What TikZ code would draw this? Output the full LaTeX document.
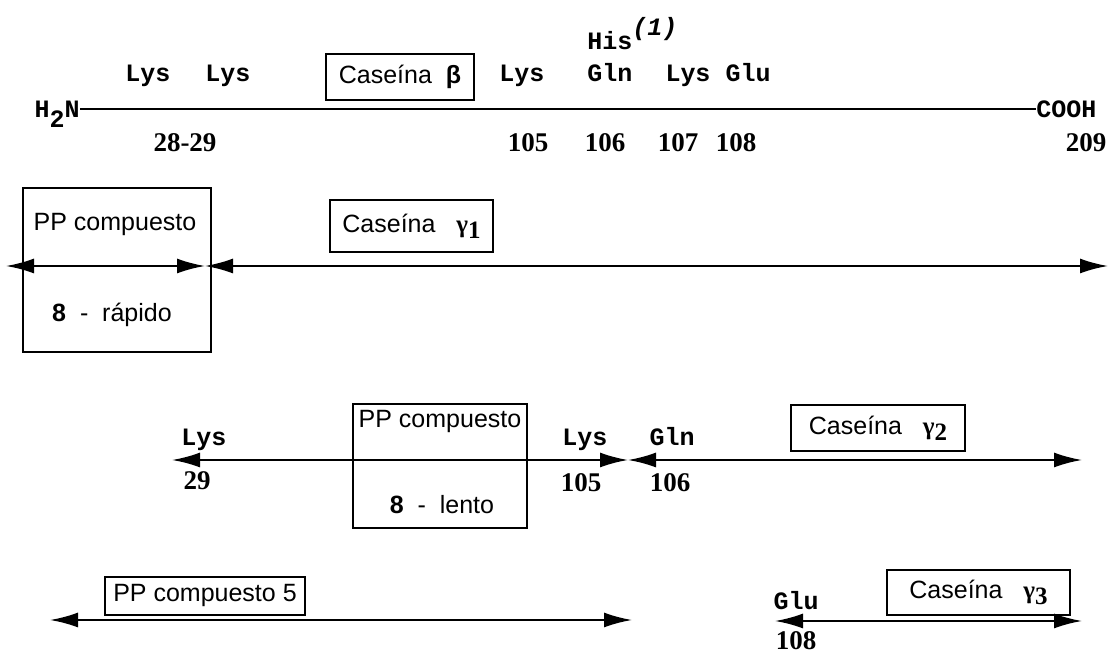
\documentclass[tikz,border=0pt]{standalone}
\usepackage{fontspec}
\setmainfont{Liberation Sans}
\newfontfamily\resfont{Liberation Mono}
\newfontfamily\numfont{Liberation Serif}
\usetikzlibrary{arrows.meta,positioning}

\newcommand{\gam}[1]{{\numfont\bfseries γ}\raisebox{-0.45ex}{\numfont\bfseries #1}}

\begin{document}
\begin{tikzpicture}[
    x=0.5pt, y=-0.5pt,
    res/.style={font=\resfont\bfseries\fontsize{12.5}{14}\selectfont, inner sep=0pt, anchor=base},
    num/.style={font=\numfont\bfseries\fontsize{13.5}{15}\selectfont, inner sep=0pt, anchor=base},
    lbl/.style={font=\fontsize{12.5}{14}\selectfont, inner sep=0pt},
    cbox/.style={rectangle, draw, line width=0.9pt, font=\fontsize{12.5}{14}\selectfont, inner sep=0pt},
    tallbox/.style={rectangle, draw, line width=0.9pt, inner sep=0pt},
    arr/.style={{Latex[length=14pt,width=7.5pt]}-{Latex[length=14pt,width=7.5pt]}, line width=1.1pt},
]
    \useasboundingbox (0,0) rectangle (1110,656);

    % main chain
    \node [res, anchor=east] (nterm) at (80,109) {H\smash{\raisebox{-0.75ex}{2}}N};
    \node [res, anchor=west] (cterm) at (1036,109) {COOH};
    \draw [line width=1.1pt] (nterm) -- (cterm);

    \foreach \x/\name in {148/Lys, 228/Lys, 522/Lys, 610/Gln, 688/Lys, 748/Glu}
        \node [res] (r\x) at (\x,82) {\name};
    \node [res, anchor=base west] (his) at (587,50) {His\raisebox{1.1ex}{\itshape (1)}};

    \foreach \x/\pos in {185/28-29, 528/105, 605/106, 678/107, 736/108, 1086/209}
        \node [num] (n\x) at (\x,152) {\pos};

    \node [cbox, minimum width=74pt, minimum height=23pt] (beta) at (400,77) {Caseína\ \ {\bfseries β}};

    % first cleavage
    \node [tallbox, minimum width=94pt, minimum height=82pt] (rap) at (117,270) {};
    \node [lbl] (rapt) at (115,225) {PP compuesto};
    \node [lbl] (rapb) at (112,315) {{\bfseries 8}\ \ -\ \ rápido};
    \node [cbox, minimum width=81.5pt, minimum height=26pt] (g1) at (411.5,226) {Caseína\ \ \ \gam{1}};

    \coordinate (a1) at (6,266);
    \coordinate (m1) at (205,266);
    \coordinate (e1) at (1108,266);
    \draw [arr] (a1) -- (m1);
    \draw [arr] (m1) -- (e1);

    % second cleavage
    \node [tallbox, minimum width=87pt, minimum height=62pt] (len) at (440,466) {};
    \node [lbl] (lent) at (440,422) {PP compuesto};
    \node [lbl] (lenb) at (442,505) {{\bfseries 8}\ \ -\ \ lento};
    \node [cbox, minimum width=87pt, minimum height=23pt] (g2) at (878,428) {Caseína\ \ \ \gam{2}};

    \node [res] (l29) at (204,446) {Lys};
    \node [num] (n29) at (197,490) {29};
    \node [res] (l105) at (585,446) {Lys};
    \node [num] (n105b) at (581,492) {105};
    \node [res] (q106) at (672,446) {Gln};
    \node [num] (n106b) at (670,492) {106};

    \coordinate (a2) at (172,460);
    \coordinate (m2) at (628,460);
    \coordinate (e2) at (1082,460);
    \draw [arr] (a2) -- (m2);
    \draw [arr] (m2) -- (e2);

    % third cleavage
    \node [cbox, minimum width=100pt, minimum height=19pt] (pp5) at (205,596) {PP compuesto 5};
    \node [cbox, minimum width=91.5pt, minimum height=22.5pt] (g3) at (978.5,592.5) {Caseína\ \ \ \gam{3}};
    \node [res] (e108) at (796,610) {Glu};
    \node [num] (n108b) at (796,650) {108};

    \coordinate (a3) at (50,620);
    \coordinate (e3) at (632,620);
    \coordinate (a4) at (775,621);
    \coordinate (e4) at (1082,621);
    \draw [arr] (a3) -- (e3);
    \draw [arr] (a4) -- (e4);
\end{tikzpicture}
\end{document}
